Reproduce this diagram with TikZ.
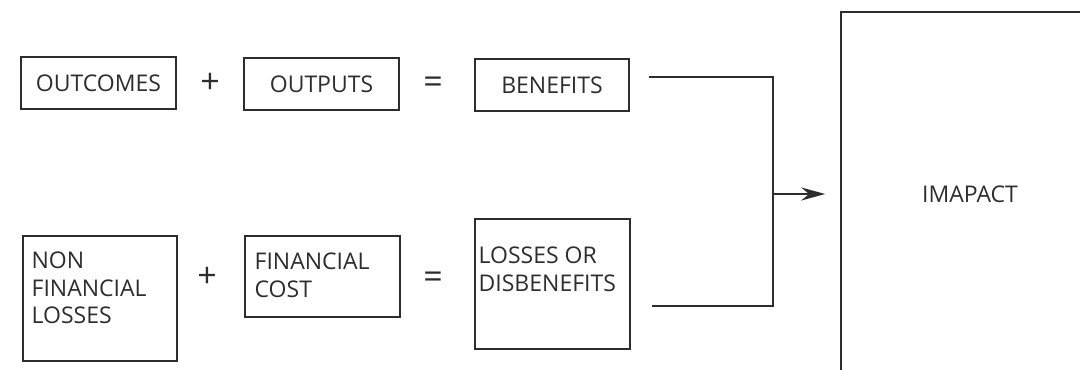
\documentclass[tikz,border=0pt]{standalone}
\usepackage{fontspec}
\setmainfont{Open Sans}
\usetikzlibrary{arrows.meta}
\definecolor{LineGray}{RGB}{45,45,45}
\tikzset{>={Stealth[length=12pt,width=6.5pt]}}
\tikzset{box/.style={draw=LineGray,line width=0.75pt,rectangle,inner sep=0pt,text=LineGray,font=\fontsize{11.5}{13.85}\selectfont}}
\tikzset{inlabel/.style={anchor=north west,inner sep=0pt,align=left,text=LineGray,font=\fontsize{11.5}{13.85}\selectfont}}
\tikzset{sign/.style={text=LineGray,inner sep=0pt,font=\fontsize{17}{17}\selectfont}}
\tikzset{link/.style={draw=LineGray,line width=0.75pt}}

\begin{document}
\begin{tikzpicture}[x=0.5pt,y=-0.5pt]
\clip (0,0) rectangle (1080,369);
% upper row
\node[box,minimum width=77.5pt,minimum height=26pt] (outcomes) at (98.5,83) {OUTCOMES};
\node[sign] (plusA) at (210,83) {+};
\node[box,minimum width=77.5pt,minimum height=26pt] (outputs) at (321.5,84) {OUTPUTS};
\node[sign] (eqA) at (433,85) {=};
\node[box,minimum width=77pt,minimum height=26pt] (benefits) at (552,85) {BENEFITS};
% lower row
\node[box,minimum width=77pt,minimum height=62.5pt,
      label={[inlabel,xshift=4.5pt,yshift=-8pt]north west:{NON\\FINANCIAL\\LOSSES}}] (nonfin) at (100,298.5) {};
\node[sign] (plusB) at (207,277) {+};
\node[box,minimum width=77.5pt,minimum height=40.5pt,
      label={[inlabel,xshift=5pt,yshift=-8.5pt]north west:{FINANCIAL\\COST}}] (fincost) at (322.5,276.5) {};
\node[sign] (eqB) at (433,280) {=};
\node[box,minimum width=77.5pt,minimum height=65pt,
      label={[inlabel,xshift=2pt,yshift=-14pt]north west:{LOSSES OR\\DISBENEFITS}}] (losses) at (552.5,284) {};
% result
\node[box,minimum width=129pt,minimum height=182pt] (impact) at (970,194) {IMAPACT};
\coordinate (junction) at (773,194);
\draw[link] ([xshift=9.5pt,yshift=4pt]benefits.east) -| (junction)
            |- ([xshift=10.5pt,yshift=-11pt]losses.east);
\draw[link,line width=1.2pt,->] (junction) -- ([xshift=-7.5pt]impact.west);
\end{tikzpicture}
\end{document}
